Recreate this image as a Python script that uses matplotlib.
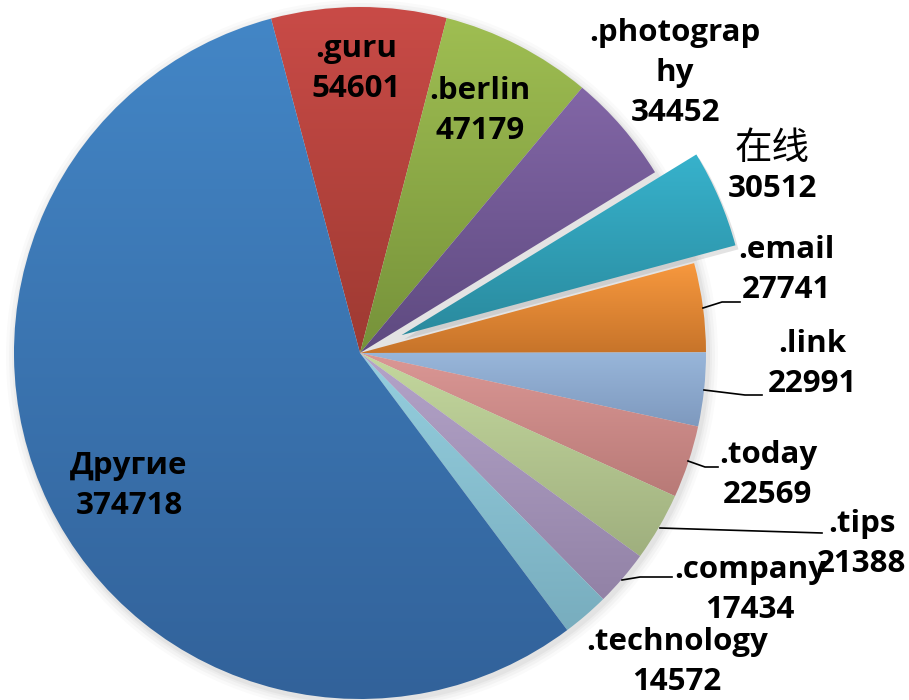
import matplotlib
matplotlib.use("Agg")
import matplotlib.pyplot as plt
import numpy as np
from matplotlib.colors import to_rgb

# datos del gráfico (dominios y cantidad de registros)
etiquetas = ['.guru', '.berlin', '.photograp\nhy', '在线', '.email', '.link',
             '.today', '.tips', '.company', '.technology', 'Другие']
valores = [54601, 47179, 34452, 30512, 27741, 22991, 22569, 21388, 17434, 14572, 374718]
separacion = [0, 0, 0, 0.13, 0, 0, 0, 0, 0, 0, 0]

# colores estilo Excel: parte superior y parte inferior del degradado
color_arriba = ['#C94B47', '#9FBE52', '#8266A6', '#37B2CC', '#F7983E', '#98B6DA',
                '#DB9795', '#C4D89E', '#B4A4C9', '#95CFDF', '#4386C6']
color_abajo = ['#9E3A32', '#76923A', '#5E4A80', '#2A8A9E', '#C7742A', '#7E99BE',
               '#B87A77', '#9FAF7E', '#9282A6', '#78ADBE', '#32629A']

H = 700  # alto en pixeles, para pasar de coordenadas de imagen a datos

fig = plt.figure(figsize=(9.09, 7), dpi=100)
ax = fig.add_axes([0, 0, 1, 1])

cx, cy, radio = 360, H - 353, 346

# sombra suave alrededor del pastel
for k, a in zip([10, 7, 4, 2], [0.04, 0.05, 0.06, 0.08]):
    ax.add_patch(plt.Circle((cx + 2, cy - 3), radio + k, color='#808080', alpha=a, lw=0, zorder=0))

# en matplotlib el explode va en unidades de datos, por eso se multiplica por el radio
cunas, _ = ax.pie(valores, explode=[s * radio for s in separacion], startangle=104.9,
                  counterclock=False, center=(cx, cy), radius=radio, frame=True,
                  wedgeprops=dict(linewidth=0))

# sombra de la porción separada
sep = cunas[3]
ax.add_patch(plt.Polygon(sep.get_path().vertices + np.array([3, -4]), closed=True,
                         color='#909090', alpha=0.25, lw=0, zorder=1))

# relleno con degradado vertical para cada porción
t = np.linspace(0, 1, 256)[:, None]
for cuna, c1, c2 in zip(cunas, color_arriba, color_abajo):
    bb = cuna.get_path().get_extents()
    a = np.array(to_rgb(c1))
    b = np.array(to_rgb(c2))
    img = (a * (1 - t) + b * t)[:, None, :]
    im = ax.imshow(img, extent=(bb.x0, bb.x1, bb.y0, bb.y1), origin='upper',
                   aspect='auto', interpolation='bilinear', zorder=2)
    im.set_clip_path(cuna)
    cuna.set_facecolor('none')

ax.set_xlim(0, 909)
ax.set_ylim(0, H)
ax.axis('off')

fuente = dict(family=['Open Sans', 'DejaVu Sans'], weight='bold', size=22.5, color='black')

# posiciones de las etiquetas en pixeles de la imagen (x, y del centro)
pos_etiquetas = {
    '.guru': (356, 69),
    '.berlin': (480, 111),
    '.photograp\nhy': (675, 73),
    '.email': (786, 270),
    '.link': (812, 364),
    '.today': (768, 475),
    '.tips': (862, 544),
    '.company': (750, 590),
    '.technology': (677, 662),
    'Другие': (129, 486),
}

for nombre, valor in zip(etiquetas, valores):
    if nombre == '在线':
        ax.text(772, H - 148, nombre, ha='center', va='center',
                family=['Noto Sans CJK SC', 'DejaVu Sans'], size=27, zorder=5)
        ax.text(772, H - 189, str(valor), ha='center', va='center', zorder=5, **fuente)
        continue
    x, y = pos_etiquetas[nombre]
    ax.text(x, H - y, f'{nombre}\n{valor}', ha='center', va='center',
            linespacing=1.45, zorder=5, **fuente)

# líneas guía
guias = [
    [(703, 308), (722, 302), (740, 302)],
    [(704, 390), (745, 395), (762, 395)],
    [(688, 461), (705, 467), (718, 467)],
    [(660, 528), (822, 533)],
    [(622, 580), (640, 577), (672, 577)],
]
for g in guias:
    xs = [p[0] for p in g]
    ys = [H - p[1] for p in g]
    ax.plot(xs, ys, color='black', lw=1.2, zorder=4)

fig.savefig('out.png', dpi=100)
